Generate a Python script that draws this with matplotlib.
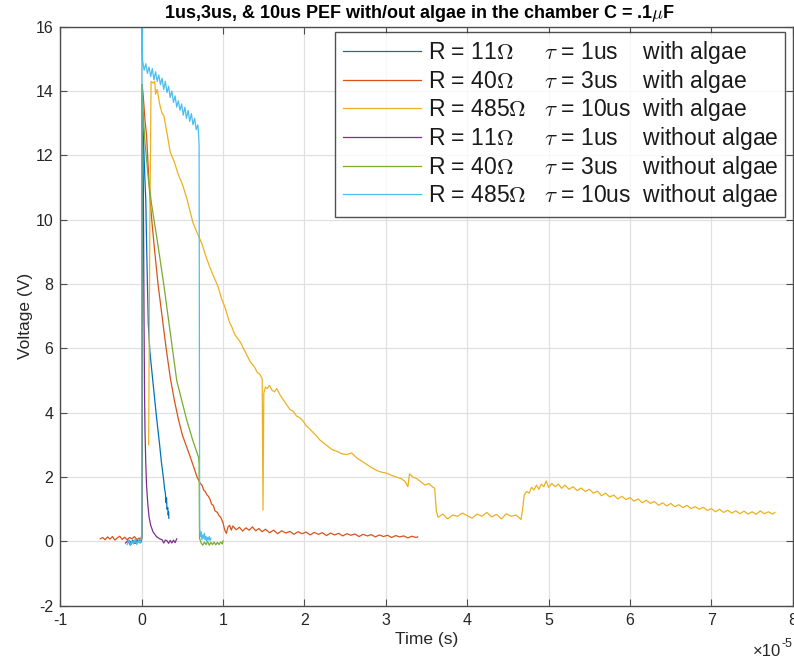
import numpy as np
import matplotlib
matplotlib.use("Agg")
import matplotlib.pyplot as plt

plt.rcParams['font.family'] = ['Liberation Sans', 'DejaVu Sans']
plt.rcParams['mathtext.fontset'] = 'cm'
plt.rcParams['axes.unicode_minus'] = False

# ---------------- data (time in units of 1e-5 s, voltage in V) ----------------
t1 = [-0.15, -0.13, -0.11, -0.09, -0.07, -0.05, -0.03, -0.01, 0.0, 0.003, 0.02, 0.04,
      0.05, 0.06, 0.08, 0.10, 0.12, 0.14, 0.16, 0.18, 0.20, 0.22, 0.24, 0.26, 0.27,
      0.28, 0.29, 0.30, 0.305, 0.31, 0.32, 0.325, 0.33, 0.333]
v1 = [0.02, -0.05, 0.04, -0.06, 0.03, -0.04, 0.05, -0.03, 0.1, 13.8, 12.6, 11.2,
      10.6, 9.2, 6.8, 5.9, 5.4, 4.9, 4.4, 3.9, 3.45, 3.0, 2.5, 2.1, 1.9,
      1.65, 1.5, 1.2, 1.35, 1.0, 1.05, 0.82, 0.92, 0.72]

t2 = [-0.51, -0.48, -0.45, -0.42, -0.39, -0.36, -0.33, -0.30, -0.27, -0.24, -0.21, -0.18,
      -0.15, -0.12, -0.09, -0.06, -0.03, -0.005, 0.0, 0.005, 0.02, 0.04, 0.06, 0.08, 0.10,
      0.13, 0.16, 0.20, 0.25, 0.30, 0.35, 0.40, 0.45, 0.50, 0.55, 0.60, 0.64, 0.68, 0.72,
      0.74, 0.76, 0.78, 0.80, 0.82, 0.84, 0.86, 0.88, 0.90, 0.93, 0.95, 0.97, 1.00, 1.02,
      1.04, 1.06, 1.08, 1.10, 1.12, 1.16, 1.20, 1.24, 1.28, 1.32, 1.36, 1.40, 1.44, 1.48,
      1.52, 1.57, 1.62, 1.67, 1.72, 1.77, 1.82, 1.87, 1.92, 1.97, 2.02, 2.07, 2.12, 2.17,
      2.22, 2.27, 2.32, 2.37, 2.42, 2.47, 2.52, 2.57, 2.62, 2.67, 2.72, 2.77, 2.82, 2.87,
      2.92, 2.97, 3.02, 3.07, 3.12, 3.17, 3.22, 3.27, 3.32, 3.37, 3.39]
v2 = [0.08, 0.12, 0.05, 0.14, 0.07, 0.15, 0.04, 0.11, 0.16, 0.06, 0.13, 0.05,
      0.12, 0.08, 0.15, 0.06, 0.10, 0.09, 0.2, 14.2, 13.8, 13.1, 12.6, 11.6, 10.7,
      9.8, 9.0, 8.0, 7.0, 6.0, 5.1, 4.4, 3.8, 3.3, 2.95, 2.6, 2.3, 2.0, 1.8,
      1.75, 1.6, 1.55, 1.45, 1.4, 1.3, 1.15, 1.12, 0.95, 0.9, 0.8, 0.75, 0.57, 0.35,
      0.25, 0.45, 0.5, 0.35, 0.48, 0.36, 0.44, 0.32, 0.42, 0.35, 0.45, 0.33, 0.4, 0.3,
      0.38, 0.27, 0.35, 0.24, 0.33, 0.26, 0.31, 0.22, 0.3, 0.24, 0.29, 0.2, 0.28, 0.22,
      0.27, 0.18, 0.26, 0.2, 0.25, 0.17, 0.24, 0.19, 0.23, 0.15, 0.22, 0.17, 0.21, 0.14,
      0.2, 0.15, 0.19, 0.12, 0.18, 0.14, 0.17, 0.11, 0.16, 0.12, 0.14]

t3 = [0.085, 0.10, 0.115, 0.14, 0.16, 0.17, 0.19, 0.22, 0.25, 0.27, 0.31, 0.35, 0.40,
      0.45, 0.50, 0.55, 0.59, 0.63, 0.68, 0.74, 0.79, 0.84, 0.89, 0.94, 0.98, 1.02, 1.05,
      1.08, 1.11, 1.14, 1.18, 1.21, 1.24, 1.27, 1.30, 1.33, 1.36, 1.39, 1.42, 1.45, 1.48,
      1.49, 1.50, 1.52, 1.54, 1.57, 1.60, 1.63, 1.66, 1.70, 1.74, 1.78, 1.82, 1.86, 1.90,
      1.94, 1.98, 2.02, 2.06, 2.10, 2.14, 2.19, 2.24, 2.29, 2.34, 2.40, 2.46, 2.52, 2.58,
      2.64, 2.70, 2.76, 2.82, 2.89, 2.95, 3.01, 3.07, 3.13, 3.19, 3.24, 3.27, 3.29, 3.33,
      3.38, 3.43, 3.48, 3.53, 3.57, 3.60, 3.62,
      3.64, 3.70, 3.76, 3.82, 3.88, 3.94, 4.00, 4.06, 4.12, 4.18, 4.24, 4.30, 4.36, 4.42,
      4.48, 4.54, 4.60, 4.66, 4.68, 4.70, 4.73, 4.76, 4.79, 4.82, 4.85, 4.88, 4.91, 4.94,
      4.97, 5.00, 5.04, 5.08, 5.12, 5.16, 5.20, 5.25, 5.30, 5.35, 5.40, 5.45, 5.50, 5.55,
      5.60, 5.65, 5.70, 5.75, 5.80, 5.85, 5.90, 5.95, 6.00, 6.05, 6.10, 6.15, 6.20, 6.25,
      6.30, 6.35, 6.40, 6.45, 6.50, 6.55, 6.60, 6.65, 6.70, 6.75, 6.80, 6.85, 6.90, 6.95,
      7.00, 7.05, 7.10, 7.15, 7.20, 7.25, 7.30, 7.35, 7.40, 7.45, 7.50, 7.55, 7.60, 7.65,
      7.70, 7.75, 7.78]
v3 = [3.0, 10.0, 14.3, 14.25, 14.3, 13.9, 14.05, 13.6, 13.3, 13.25, 12.7, 12.1, 11.8,
      11.4, 11.1, 10.7, 10.3, 9.9, 9.6, 9.25, 8.85, 8.5, 8.2, 7.9, 7.55, 7.3, 7.05,
      6.8, 6.65, 6.45, 6.3, 6.2, 6.05, 5.9, 5.75, 5.6, 5.5, 5.4, 5.25, 5.2, 5.05,
      0.97, 4.6, 4.8, 4.75, 4.85, 4.7, 4.65, 4.75, 4.55, 4.4, 4.25, 4.1, 4.05, 3.9,
      3.85, 3.75, 3.6, 3.5, 3.4, 3.3, 3.15, 3.05, 2.95, 2.85, 2.8, 2.72, 2.7, 2.75,
      2.6, 2.5, 2.4, 2.3, 2.2, 2.15, 2.12, 2.05, 2.0, 1.95, 1.85, 1.7, 2.1, 2.0,
      1.95, 1.85, 1.75, 1.8, 1.7, 1.65, 0.95,
      0.75, 0.85, 0.7, 0.82, 0.78, 0.88, 0.8, 0.72, 0.85, 0.78, 0.9, 0.76, 0.84, 0.7,
      0.86, 0.78, 0.82, 0.68, 1.0, 1.45, 1.55, 1.5, 1.68, 1.6, 1.75, 1.62, 1.78, 1.7,
      1.88, 1.68, 1.8, 1.7, 1.78, 1.65, 1.75, 1.62, 1.7, 1.58, 1.66, 1.55, 1.62, 1.5,
      1.56, 1.42, 1.5, 1.38, 1.44, 1.32, 1.4, 1.3, 1.36, 1.25, 1.32, 1.2, 1.28, 1.18,
      1.24, 1.12, 1.2, 1.1, 1.18, 1.08, 1.14, 1.05, 1.12, 1.02, 1.08, 1.0, 1.06, 0.96,
      1.02, 0.92, 1.0, 0.9, 0.97, 0.88, 0.95, 0.86, 0.94, 0.85, 0.92, 0.84, 0.95, 0.86,
      0.92, 0.85, 0.9]

t4 = [-0.2, -0.17, -0.14, -0.11, -0.08, -0.05, -0.02, 0.0, 0.003, 0.02, 0.028, 0.035,
      0.04, 0.05, 0.06, 0.075, 0.09, 0.11, 0.14, 0.18, 0.22, 0.25, 0.27, 0.29, 0.31,
      0.33, 0.35, 0.37, 0.39, 0.41, 0.43]
v4 = [-0.05, 0.02, -0.12, 0.0, -0.06, 0.03, -0.04, 0.1, 14.0, 11.0, 7.0, 4.5,
      3.45, 2.4, 1.7, 1.15, 0.76, 0.5, 0.29, 0.15, 0.08, 0.05, -0.05, 0.04, 0.02,
      -0.06, 0.03, -0.05, 0.04, -0.04, 0.08]

t5 = [-0.1, -0.06, -0.02, 0.0, 0.005, 0.02, 0.04, 0.08, 0.12, 0.20, 0.27, 0.35, 0.43,
      0.49, 0.55, 0.62, 0.70, 0.705, 0.71, 0.73, 0.75, 0.77, 0.79, 0.81, 0.83, 0.85,
      0.87, 0.89, 0.91, 0.93, 0.95, 0.97, 0.99, 1.0]
v5 = [0.0, -0.05, 0.02, 0.1, 14.2, 13.2, 12.4, 11.3, 10.5, 9.2, 8.0, 6.5, 5.0,
      4.4, 3.8, 3.2, 2.6, 2.4, 0.1, -0.05, -0.12, -0.02, -0.1, 0.0, -0.12, -0.03,
      -0.1, -0.02, -0.11, -0.03, -0.1, -0.02, -0.08, 0.02]

t6 = [-0.18, -0.16, -0.14, -0.12, -0.10, -0.08, -0.06, -0.04, -0.02, -0.005, 0.0, 0.002,
      0.01, 0.03, 0.05, 0.07, 0.09, 0.11, 0.13, 0.15, 0.17, 0.19, 0.21, 0.23, 0.25, 0.27,
      0.29, 0.31, 0.33, 0.35, 0.37, 0.39, 0.41, 0.43, 0.45, 0.47, 0.49, 0.51, 0.53, 0.55,
      0.57, 0.59, 0.61, 0.63, 0.65, 0.67, 0.69, 0.70, 0.705, 0.712, 0.72, 0.73, 0.74, 0.75,
      0.76, 0.77, 0.78, 0.79, 0.80, 0.81, 0.82, 0.83, 0.84, 0.85]
v6 = [-0.1, 0.05, -0.12, 0.0, -0.08, 0.08, -0.1, 0.03, -0.06, 0.1, 0.2, 16.3,
      14.95, 14.65, 14.85, 14.55, 14.75, 14.45, 14.7, 14.35, 14.6, 14.3, 14.5, 14.2, 14.4, 14.05,
      14.3, 13.95, 14.15, 13.8, 14.0, 13.65, 13.85, 13.5, 13.7, 13.4, 13.6, 13.25, 13.5, 13.15,
      13.4, 13.05, 13.3, 12.95, 13.15, 12.8, 12.95, 12.6, 12.3, 0.4, 0.15, 0.3, 0.05, 0.2,
      0.1, 0.25, 0.05, 0.15, 0.0, 0.12, 0.05, 0.15, 0.02, 0.1]

series_t = [t1, t2, t3, t4, t5, t6]
series_v = [v1, v2, v3, v4, v5, v6]
labels = [
    r"R = 11$\Omega$     $\tau$ = 1us    with algae",
    r"R = 40$\Omega$     $\tau$ = 3us    with algae",
    r"R = 485$\Omega$   $\tau$ = 10us  with algae",
    r"R = 11$\Omega$     $\tau$ = 1us    without algae",
    r"R = 40$\Omega$     $\tau$ = 3us    without algae",
    r"R = 485$\Omega$   $\tau$ = 10us  without algae",
]
colors = ['#0072BD', '#D95319', '#EDB120', '#7E2F8E', '#77AC30', '#4DBEEE']

x_ticks = [-1, 0, 1, 2, 3, 4, 5, 6, 7, 8]
y_ticks = [-2, 0, 2, 4, 6, 8, 10, 12, 14, 16]

# ---------------- figure ----------------
fig = plt.figure(figsize=(7.94, 6.63), dpi=100)
ax = fig.add_axes([0.076, 0.0864, 0.9225, 0.8733])

for t, v, c, lab in zip(series_t, series_v, colors, labels):
    ax.plot(np.array(t) * 1e-5, v, color=c, lw=0.9, label=lab)

ax.set_xlim(-1e-5, 8e-5)
ax.set_ylim(-2, 16)
ax.set_xticks([x * 1e-5 for x in x_ticks])
ax.set_xticklabels([str(x) for x in x_ticks])
ax.set_yticks(y_ticks)
ax.set_yticklabels([str(y) for y in y_ticks])

gray = '#262626'
for s in ax.spines.values():
    s.set_color('#4d4d4d')
    s.set_linewidth(1.0)
ax.tick_params(direction='in', length=5, width=0.8, colors='#4d4d4d',
               labelcolor=gray, labelsize=11.5, top=True, right=True, pad=5)
ax.grid(True, color='#e0e0e0', lw=0.9)
ax.set_axisbelow(True)

ax.set_xlabel("Time (s)", fontsize=12.5, color=gray, labelpad=3)
ax.set_ylabel("Voltage (V)", fontsize=12.5, color=gray, labelpad=2)
ax.set_title(r"1us,3us, & 10us PEF with/out algae in the chamber C = .1$\mu$F",
             fontsize=13, fontweight='bold', color='black', pad=6, x=0.4905)

# axis exponent label (x 10^-5) at the lower right
fig.text(781 / 794, 1 - 652 / 663, "\u00d710", ha='right', va='center',
         fontsize=12, color=gray)
fig.text(781 / 794, 1 - 644 / 663, "-5", ha='left', va='center',
         fontsize=9, color=gray)

leg = ax.legend(loc='upper right', bbox_to_anchor=(0.99, 0.991), borderaxespad=0,
                fontsize=16.5, frameon=True, fancybox=False, handlelength=3.4,
                handletextpad=0.3, labelspacing=0.07, borderpad=0.32)
leg.get_frame().set_edgecolor('#262626')
leg.get_frame().set_linewidth(1.0)
for txt in leg.get_texts():
    txt.set_color('#1a1a1a')

fig.savefig("out.png", dpi=100)
